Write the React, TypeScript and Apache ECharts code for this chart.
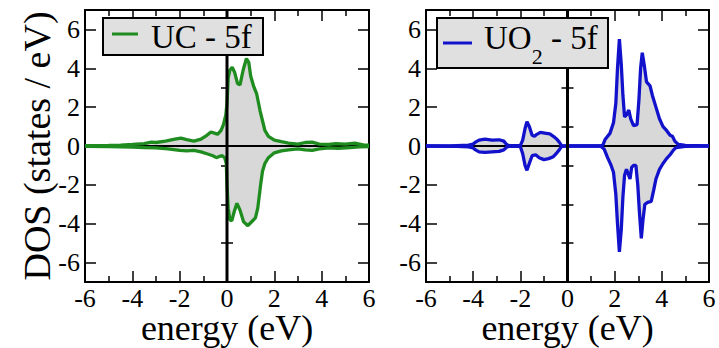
import React, { useEffect, useRef } from "react";
import * as echarts from "echarts";

// ---- tick values ----
const energyTicks = [-6, -4, -2, 0, 2, 4, 6];
const dosMajorTicks = [-6, -4, -2, 0, 2, 4, 6];
const dosMinorTicks = [-5, -3, -1, 1, 3, 5];

// ---- UC 5f (left panel) ----
const ucUpEnergy = [-6, -5, -4.5, -4, -3.5, -3.2, -3, -2.6, -2.2, -1.95, -1.7, -1.4, -1.1, -0.85, -0.68, -0.5, -0.4, -0.25, -0.15, -0.05, 0, 0.05, 0.12, 0.22, 0.32, 0.45, 0.55, 0.68, 0.82, 0.92, 1.0, 1.12, 1.25, 1.4, 1.5, 1.6, 1.75, 2.0, 2.3, 2.6, 3.0, 3.3, 3.6, 3.9, 4.3, 4.6, 5.0, 5.4, 5.8, 6];
const ucUpDos = [0.02, 0.03, 0.05, 0.08, 0.12, 0.2, 0.18, 0.25, 0.35, 0.4, 0.33, 0.25, 0.35, 0.55, 0.72, 0.65, 0.6, 0.8, 1.1, 1.6, 2.2, 3.5, 3.9, 4.05, 3.8, 3.2, 3.15, 3.9, 4.5, 4.3, 3.6, 3.1, 2.7, 1.8, 1.3, 0.8, 0.5, 0.3, 0.22, 0.15, 0.1, 0.18, 0.2, 0.1, 0.08, 0.12, 0.1, 0.15, 0.05, 0.05];
const ucDownEnergy = [-6, -5, -4.5, -4, -3.5, -3, -2.5, -2, -1.7, -1.4, -1.1, -0.85, -0.6, -0.45, -0.35, -0.2, -0.1, -0.03, 0, 0.05, 0.12, 0.2, 0.3, 0.42, 0.55, 0.7, 0.88, 1.0, 1.2, 1.3, 1.42, 1.5, 1.6, 1.75, 2.0, 2.3, 2.6, 3.0, 3.3, 3.6, 3.9, 4.3, 4.7, 5.2, 5.6, 6];
const ucDownDos = [-0.02, -0.03, -0.05, -0.06, -0.08, -0.1, -0.15, -0.22, -0.25, -0.22, -0.3, -0.4, -0.5, -0.6, -0.55, -0.5, -0.6, -0.9, -2.0, -3.2, -3.8, -3.85, -3.4, -2.95, -3.3, -3.9, -4.1, -3.95, -3.7, -3.2, -2.0, -1.3, -0.9, -0.6, -0.35, -0.25, -0.2, -0.15, -0.2, -0.22, -0.15, -0.1, -0.12, -0.08, -0.05, -0.03];

// ---- UO2 5f (right panel) ----
const uo2UpEnergy = [-6, -5, -4.7, -4.2, -4.0, -3.9, -3.75, -3.5, -3.2, -2.9, -2.7, -2.6, -2.5, -2.2, -2.0, -1.9, -1.8, -1.72, -1.62, -1.5, -1.4, -1.3, -1.15, -0.9, -0.75, -0.6, -0.45, -0.35, -0.25, 0, 1.4, 1.5, 1.6, 1.8, 1.95, 2.05, 2.12, 2.2, 2.28, 2.35, 2.42, 2.5, 2.6, 2.68, 2.8, 2.95, 3.03, 3.1, 3.17, 3.25, 3.35, 3.5, 3.6, 3.75, 3.9, 4.05, 4.2, 4.35, 4.45, 4.55, 4.7, 5.0, 6];
const uo2UpDos = [0, 0, 0.02, 0.05, 0.1, 0.2, 0.3, 0.35, 0.3, 0.32, 0.25, 0.1, 0.03, 0.02, 0.02, 0.3, 0.9, 1.25, 1.0, 0.55, 0.5, 0.6, 0.7, 0.65, 0.62, 0.5, 0.35, 0.2, 0.02, 0, 0, 0.05, 0.35, 0.65, 1.2, 2.2, 4.0, 5.5, 4.2, 2.6, 1.5, 1.6, 1.85, 1.4, 1.05, 1.1, 2.4, 4.0, 4.8, 4.2, 3.3, 3.1, 2.6, 2.0, 1.4, 1.0, 0.8, 0.55, 0.5, 0.25, 0.08, 0.03, 0];
const uo2DownEnergy = [-6, -4.7, -4.2, -4.0, -3.9, -3.75, -3.5, -3.2, -2.9, -2.7, -2.6, -2.5, -2.0, -1.9, -1.8, -1.72, -1.62, -1.5, -1.35, -1.2, -1.0, -0.8, -0.6, -0.45, -0.35, -0.25, 0, 1.4, 1.55, 1.7, 1.85, 1.95, 2.05, 2.12, 2.2, 2.28, 2.35, 2.42, 2.5, 2.58, 2.65, 2.72, 2.8, 2.9, 2.98, 3.05, 3.13, 3.2, 3.28, 3.4, 3.55, 3.65, 3.75, 3.9, 4.05, 4.2, 4.35, 4.5, 4.6, 5.0, 6];
const uo2DownDos = [0, -0.02, -0.05, -0.1, -0.2, -0.3, -0.33, -0.3, -0.28, -0.2, -0.08, -0.02, -0.02, -0.4, -1.0, -1.25, -0.9, -0.5, -0.45, -0.6, -0.7, -0.65, -0.55, -0.35, -0.2, -0.02, 0, 0, -0.15, -0.6, -1.0, -1.35, -2.5, -4.0, -5.45, -4.3, -2.6, -1.5, -1.2, -1.45, -1.7, -1.1, -1.0, -1.0, -2.0, -3.4, -4.75, -3.8, -3.0, -2.9, -2.85, -2.3, -1.7, -1.2, -0.9, -0.65, -0.45, -0.2, -0.08, -0.02, 0];

const FONT = "'Liberation Serif', 'Times New Roman', serif";
const GREEN = "#1f8c1f";
const BLUE = "#1212cc";
const FILL = "#d8d8d8";

const zip = (xs: number[], ys: number[]) => xs.map((x, i) => [x, ys[i]]);

function panelAxes(gridIndex: number, withYName: boolean) {
  const tickLine = { color: "#000", width: 1.5 };
  const xBottom: any = {
    gridIndex, type: "value", position: "bottom", min: -6, max: 6, interval: 2,
    axisLine: { show: true, onZero: false, lineStyle: { color: "#000", width: 2 } },
    axisTick: { show: true, inside: true, length: 11, lineStyle: tickLine },
    minorTick: { show: true, splitNumber: 2, length: 6, lineStyle: tickLine },
    axisLabel: { show: false },
    splitLine: { show: false }, minorSplitLine: { show: false },
    name: "energy (eV)", nameLocation: "middle", nameGap: 33, nameMoveOverlap: false,
    nameTextStyle: { color: "#000", fontFamily: FONT, fontSize: 36, lineHeight: 26 },
  };
  const xTop: any = {
    gridIndex, type: "value", position: "top", min: -6, max: 6, interval: 2,
    axisLine: { show: true, onZero: false, lineStyle: { color: "#000", width: 2 } },
    axisTick: { show: true, inside: true, length: 11, lineStyle: tickLine },
    minorTick: { show: true, splitNumber: 2, length: 6, lineStyle: tickLine },
    axisLabel: { show: false }, splitLine: { show: false },
  };
  const yMajor = (position: string, name: boolean): any => ({
    gridIndex, type: "value", position, min: -7, max: 7,
    axisLine: { show: true, onZero: false, lineStyle: { color: "#000", width: 2 } },
    axisTick: { show: true, inside: true, length: 11, lineStyle: tickLine, customValues: dosMajorTicks },
    axisLabel: { show: false },
    splitLine: { show: false },
    ...(name ? {
      name: "DOS (states / eV)", nameLocation: "middle", nameGap: 33, nameMoveOverlap: false,
      nameTextStyle: { color: "#000", fontFamily: FONT, fontSize: 38, lineHeight: 30 },
    } : {}),
  });
  const yMinor = (position: string): any => ({
    gridIndex, type: "value", position, min: -7, max: 7,
    axisLine: { show: false },
    axisTick: { show: true, inside: true, length: 6, lineStyle: tickLine, customValues: dosMinorTicks },
    axisLabel: { show: false }, splitLine: { show: false },
  });
  return {
    x: [xBottom, xTop],
    y: [yMajor("left", withYName), yMinor("left"), yMajor("right", false), yMinor("right")],
  };
}

function panelSeries(xIdx: number, yIdx: number, up: number[][], down: number[][], color: string, name: string) {
  const base = { type: "line", xAxisIndex: xIdx, yAxisIndex: yIdx, showSymbol: false, symbol: "none", silent: true, smooth: false };
  return [
    { ...base, name: name + " area up", data: up, z: 2, lineStyle: { width: 0, opacity: 0 }, areaStyle: { color: FILL, opacity: 1, origin: "auto" } },
    { ...base, name: name + " area down", data: down, z: 2, lineStyle: { width: 0, opacity: 0 }, areaStyle: { color: FILL, opacity: 1, origin: "auto" } },
    { ...base, name: "zero", data: [[-6, 0], [6, 0]], z: 3, lineStyle: { color: "#000", width: 2 } },
    { ...base, name: name + " up", data: up, z: 4, color, lineStyle: { color, width: 3.3 } },
    { ...base, name: name + " down", data: down, z: 4, color, lineStyle: { color, width: 3.3 } },
    { ...base, name: "fermi", data: [[0, -7], [0, 7]], z: 6, lineStyle: { color: "#000", width: 3 } },
  ];
}

const legendGraphics: any[] = [
  { id: "lg1-box", type: "rect", z: 100, shape: { x: 103, y: 18, width: 160, height: 37 }, style: { fill: "#e0e0e0", stroke: "#000", lineWidth: 2 } },
  { id: "lg1-line", type: "line", z: 101, shape: { x1: 112, y1: 34, x2: 138, y2: 34 }, style: { stroke: GREEN, lineWidth: 3 } },
  { id: "lg1-text", type: "text", z: 101, x: 151, y: 37, style: { text: "UC - 5f", fill: "#000", font: `33px ${FONT}`, verticalAlign: "middle" } },
  { id: "lg2-box", type: "rect", z: 100, shape: { x: 437, y: 18, width: 171, height: 50 }, style: { fill: "#e0e0e0", stroke: "#000", lineWidth: 2 } },
  { id: "lg2-line", type: "line", z: 101, shape: { x1: 443, y1: 43, x2: 472, y2: 43 }, style: { stroke: BLUE, lineWidth: 3 } },
  {
    id: "lg2-text", type: "text", z: 101, x: 484, y: 21,
    style: {
      text: "{a|UO}{b|2}{a| - 5f}", fill: "#000", verticalAlign: "top",
      rich: {
        a: { fontFamily: FONT, fontSize: 33, lineHeight: 33, verticalAlign: "top" },
        b: { fontFamily: FONT, fontSize: 22, padding: [24, 0, 0, 0], verticalAlign: "bottom" },
      },
    },
  },
];

export default function App() {
  const ref = useRef<HTMLDivElement>(null);
  useEffect(() => {
    if (!ref.current) return;
    const chart = echarts.init(ref.current, null, { renderer: "svg" });
    const left = panelAxes(0, true);
    const right = panelAxes(1, false);
    const option: any = {
      animation: false,
      backgroundColor: "#fff",
      textStyle: { fontFamily: FONT, color: "#000" },
      grid: [
        { left: 85, top: 10, width: 284, height: 272, outerBoundsMode: "none", containLabel: false },
        { left: 426, top: 10, width: 283, height: 272, outerBoundsMode: "none", containLabel: false },
      ],
      xAxis: [...left.x, ...right.x],
      yAxis: [...left.y, ...right.y],
      series: [
        ...panelSeries(0, 0, zip(ucUpEnergy, ucUpDos), zip(ucDownEnergy, ucDownDos), GREEN, "UC - 5f"),
        ...panelSeries(2, 4, zip(uo2UpEnergy, uo2UpDos), zip(uo2DownEnergy, uo2DownDos), BLUE, "UO2 - 5f"),
      ],
      graphic: legendGraphics,
    };
    chart.setOption(option);

    // Tick labels placed through the chart's own axis scales.
    const tickFont = `26px ${FONT}`;
    const tickTexts: any[] = [];
    [
      { xAxisIndex: 0, yAxisIndex: 0, key: "L" },
      { xAxisIndex: 2, yAxisIndex: 4, key: "R" },
    ].forEach((p) => {
      const yBottom = chart.convertToPixel({ yAxisIndex: p.yAxisIndex }, -7) as number;
      const xLeft = chart.convertToPixel({ xAxisIndex: p.xAxisIndex }, -6) as number;
      energyTicks.forEach((v) => {
        const px = chart.convertToPixel({ xAxisIndex: p.xAxisIndex }, v) as number;
        tickTexts.push({
          id: `xt-${p.key}-${v}`, type: "text", z: 50, x: px, y: yBottom + 16,
          style: { text: String(v), fill: "#000", font: tickFont, align: "center", verticalAlign: "middle", lineHeight: 18 },
        });
      });
      dosMajorTicks.forEach((v) => {
        const py = chart.convertToPixel({ yAxisIndex: p.yAxisIndex }, v) as number;
        tickTexts.push({
          id: `yt-${p.key}-${v}`, type: "text", z: 50, x: xLeft - 5, y: py,
          style: { text: String(v), fill: "#000", font: tickFont, align: "right", verticalAlign: "middle", lineHeight: 18 },
        });
      });
    });
    chart.setOption({ graphic: [...legendGraphics, ...tickTexts] });
    return () => chart.dispose();
  }, []);
  return <div ref={ref} style={{ position: "fixed", left: 0, top: 0, width: 719, height: 348 }} />;
}
